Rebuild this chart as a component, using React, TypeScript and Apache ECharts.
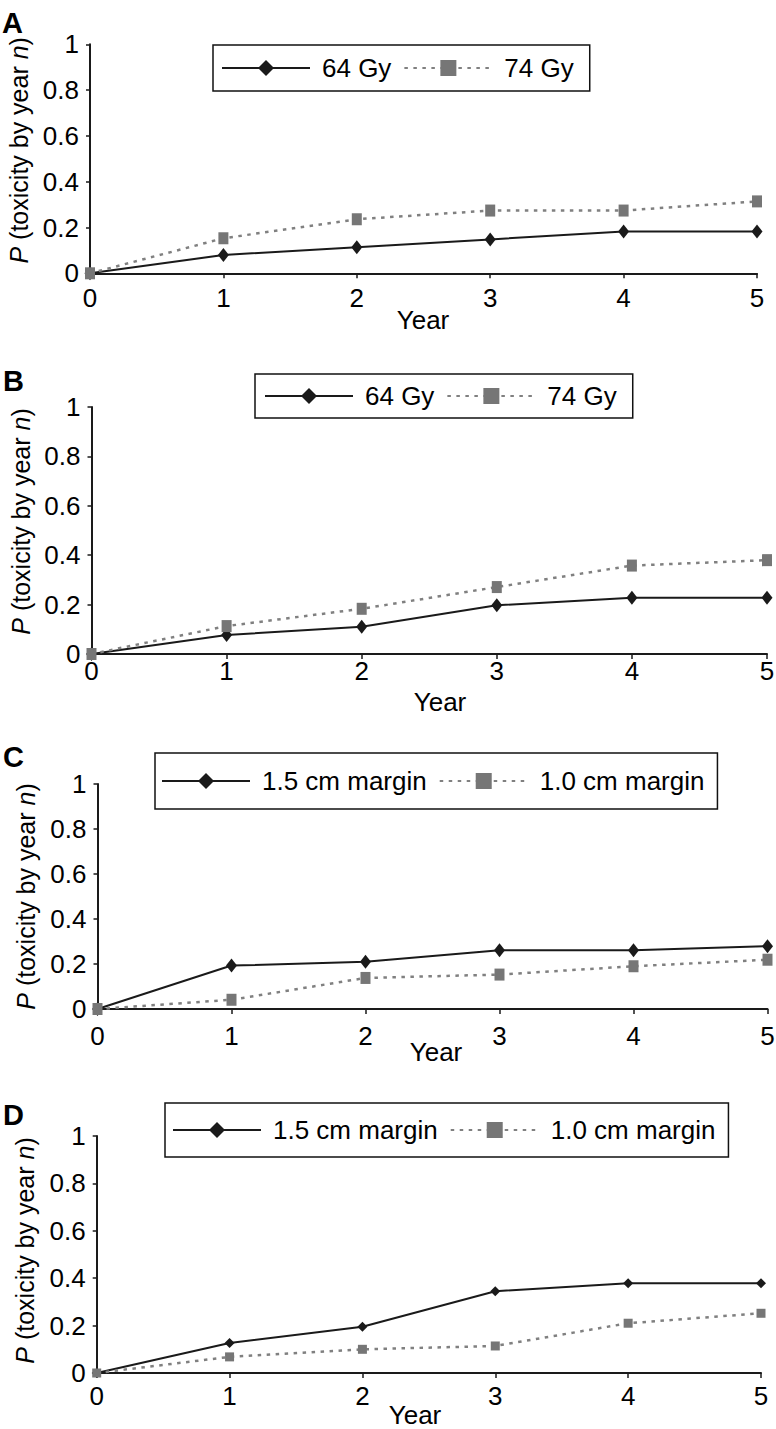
import React, { useEffect, useRef } from "react";
import * as echarts from "echarts";

// ---- data ----
const years = [0, 1, 2, 3, 4, 5];
const panelLetters = ["A", "B", "C", "D"];
const doseNames = ["64 Gy", "74 Gy"];
const marginNames = ["1.5 cm margin", "1.0 cm margin"];
const xTitle = "Year";
const yTitleRich = "{i|P} (toxicity by year {i|n})";

const a64 = [0, 0.08, 0.114, 0.148, 0.182, 0.182];
const a74 = [0, 0.153, 0.236, 0.274, 0.274, 0.314];
const b64 = [0, 0.077, 0.11, 0.197, 0.228, 0.228];
const b74 = [0, 0.113, 0.183, 0.271, 0.358, 0.38];
const c15 = [0, 0.193, 0.21, 0.261, 0.261, 0.279];
const c10 = [0, 0.041, 0.138, 0.153, 0.19, 0.219];
const d15 = [0, 0.127, 0.195, 0.345, 0.379, 0.379];
const d10 = [0, 0.068, 0.1, 0.114, 0.21, 0.252];

const seriesValues = [
  [a64, a74],
  [b64, b74],
  [c15, c10],
  [d15, d10],
];
const seriesNames = [doseNames, doseNames, marginNames, marginNames];

// ---- layout ----
const FONT = "'Liberation Sans', Arial, Helvetica, sans-serif";
const layout = [
  {
    grid: { left: 90, top: 44.3, width: 667, height: 229 },
    legend: { left: 213, top: 45, padding: [10, 16, 10, 8] },
    letter: { x: 2, y: 23 },
    year: { x: 423, y: 320 },
    xLabelMargin: 12,
    nameGap: 55,
    namePad: [0, 0, 0, 17],
    diamond: [11, 14],
    rect: [10, 12],
  },
  {
    grid: { left: 91.5, top: 407, width: 675.5, height: 247 },
    legend: { left: 255, top: 374, padding: [9, 16, 9, 9] },
    letter: { x: 3, y: 381 },
    year: { x: 440, y: 702 },
    xLabelMargin: 4,
    nameGap: 54,
    namePad: [0, 0, 0, 18],
    diamond: [11, 14],
    rect: [10, 12],
  },
  {
    grid: { left: 97.5, top: 784, width: 670, height: 225 },
    legend: { left: 155, top: 753, padding: [15, 13, 15, 6] },
    letter: { x: 3, y: 757 },
    year: { x: 436, y: 1052 },
    xLabelMargin: 14,
    nameGap: 59,
    namePad: [0, 0, 0, 0],
    diamond: [11, 14],
    rect: [10, 12],
  },
  {
    grid: { left: 96.7, top: 1136, width: 664.3, height: 237 },
    legend: { left: 165, top: 1103, padding: [14, 13, 14, 7] },
    letter: { x: 3, y: 1115 },
    year: { x: 415, y: 1415 },
    xLabelMargin: 10,
    nameGap: 59,
    namePad: [0, 0, 0, 8],
    diamond: [10, 10],
    rect: [9, 9],
  },
];

const AXIS = "#1a1a1a";
const SOLID = "#1a1a1a";
const GREY_LINE = "#808080";
const GREY_MARK = "#767676";

export default function App() {
  const ref = useRef<HTMLDivElement>(null);

  useEffect(() => {
    document.body.style.margin = "0";
    if (!ref.current) return;
    const chart = echarts.init(ref.current, undefined, { renderer: "svg" });

    const grids = layout.map((l) => ({
      left: l.grid.left,
      top: l.grid.top,
      width: l.grid.width,
      height: l.grid.height,
      containLabel: false,
      outerBoundsMode: "none",
    }));

    const xAxes = layout.map((l, i) => ({
      type: "value",
      gridIndex: i,
      min: 0,
      max: 5,
      interval: 1,
      axisLine: { show: true, onZero: false, lineStyle: { color: AXIS, width: 2 } },
      axisTick: { show: true, length: 5, lineStyle: { color: AXIS, width: 1.5 } },
      splitLine: { show: false },
      axisLabel: {
        show: true,
        fontSize: 26,
        color: "#000",
        fontFamily: FONT,
        margin: l.xLabelMargin,
      },
    }));

    const yAxes = layout.map((l, i) => ({
      type: "value",
      gridIndex: i,
      min: 0,
      max: 1,
      interval: 0.2,
      axisLine: { show: true, onZero: false, lineStyle: { color: AXIS, width: 2 } },
      axisTick: { show: true, length: 4, lineStyle: { color: AXIS, width: 1.5 } },
      splitLine: { show: false },
      axisLabel: {
        show: true,
        fontSize: 26,
        color: "#000",
        fontFamily: FONT,
        margin: 11,
      },
      name: yTitleRich,
      nameLocation: "middle",
      nameGap: l.nameGap,
      nameTextStyle: {
        fontSize: 25,
        color: "#000",
        fontFamily: FONT,
        padding: l.namePad,
        rich: {
          i: { fontStyle: "italic", fontSize: 25, color: "#000", fontFamily: FONT },
        },
      },
    }));

    const series: any[] = [];
    layout.forEach((l, i) => {
      const [v1, v2] = seriesValues[i];
      const [n1, n2] = seriesNames[i];
      series.push({
        type: "line",
        name: n1,
        xAxisIndex: i,
        yAxisIndex: i,
        data: years.map((x, j) => [x, v1[j]]),
        symbol: "diamond",
        symbolSize: l.diamond,
        showSymbol: true,
        clip: false,
        lineStyle: { color: SOLID, width: 2, type: "solid" },
        itemStyle: { color: SOLID },
        emphasis: { disabled: true },
        z: 2,
      });
      series.push({
        type: "line",
        name: n2,
        xAxisIndex: i,
        yAxisIndex: i,
        data: years.map((x, j) => [x, v2[j]]),
        symbol: "rect",
        symbolSize: l.rect,
        showSymbol: true,
        clip: false,
        lineStyle: { color: GREY_LINE, width: 2.5, type: [3.5, 5.5] },
        itemStyle: { color: GREY_MARK },
        emphasis: { disabled: true },
        z: 3,
      });
    });

    const legends = layout.map((l, i) => ({
      data: seriesNames[i],
      left: l.legend.left,
      top: l.legend.top,
      orient: "horizontal",
      padding: l.legend.padding,
      borderColor: "#111",
      borderWidth: 1.5,
      backgroundColor: "#fff",
      itemWidth: 88,
      itemHeight: 20,
      itemGap: 12,
      selectedMode: false,
      textStyle: {
        fontSize: 26,
        lineHeight: 26,
        color: "#000",
        fontFamily: FONT,
        padding: [0, 0, 0, 7],
      },
    }));

    const graphics: any[] = [];
    layout.forEach((l, i) => {
      graphics.push({
        type: "text",
        x: l.letter.x,
        y: l.letter.y,
        style: {
          text: panelLetters[i],
          fontSize: 29,
          fontWeight: "bold",
          fontFamily: FONT,
          fill: "#000",
          align: "left",
          verticalAlign: "middle",
          textAlign: "left",
          textVerticalAlign: "middle",
        },
      });
      graphics.push({
        type: "text",
        x: l.year.x,
        y: l.year.y,
        style: {
          text: xTitle,
          fontSize: 26,
          fontFamily: FONT,
          fill: "#000",
          align: "center",
          verticalAlign: "middle",
          textAlign: "center",
          textVerticalAlign: "middle",
        },
      });
    });

    chart.setOption({
      animation: false,
      backgroundColor: "#fff",
      textStyle: { fontFamily: FONT },
      grid: grids,
      xAxis: xAxes,
      yAxis: yAxes,
      legend: legends,
      series,
      graphic: graphics,
    });

    return () => chart.dispose();
  }, []);

  return <div ref={ref} style={{ width: 776, height: 1429 }} />;
}
